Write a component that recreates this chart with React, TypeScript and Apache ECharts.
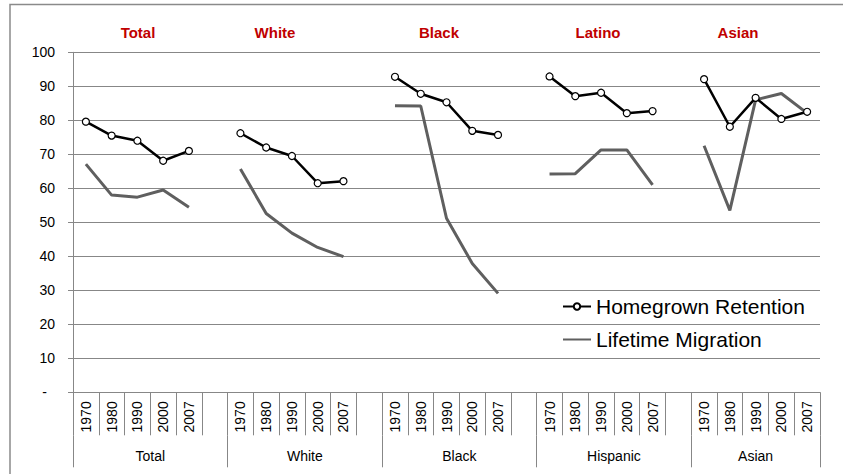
import React, { useEffect, useRef } from "react";
import * as echarts from "echarts";

const years = ["1970", "1980", "1990", "2000", "2007"];
const groups = ["Total", "White", "Black", "Hispanic", "Asian"];
const panelTitles = ["Total", "White", "Black", "Latino", "Asian"];
const yTicks = [0, 10, 20, 30, 40, 50, 60, 70, 80, 90, 100];

const retentionTotal = [79.6, 75.5, 74.0, 68.1, 71.0];
const retentionWhite = [76.2, 72.0, 69.5, 61.5, 62.1];
const retentionBlack = [92.8, 87.8, 85.3, 76.9, 75.7];
const retentionLatino = [92.9, 87.1, 88.1, 82.1, 82.7];
const retentionAsian = [92.1, 78.1, 86.6, 80.4, 82.5];

const migrationTotal = [67.1, 58.0, 57.4, 59.5, 54.4];
const migrationWhite = [65.7, 52.6, 46.8, 42.6, 39.9];
const migrationBlack = [84.3, 84.2, 51.2, 37.9, 29.1];
const migrationLatino = [64.2, 64.3, 71.3, 71.3, 61.0];
const migrationAsian = [72.5, 53.5, 86.0, 87.9, 82.1];

const retentionByGroup = [retentionTotal, retentionWhite, retentionBlack, retentionLatino, retentionAsian];
const migrationByGroup = [migrationTotal, migrationWhite, migrationBlack, migrationLatino, migrationAsian];

// Build 29 slots: 5 years per group plus a gap slot between groups
const categories: string[] = [];
groups.forEach((g, gi) => {
  years.forEach((y) => categories.push(g + "|" + y));
  if (gi < groups.length - 1) categories.push(g + "|");
});

function buildSeries(byGroup: number[][]) {
  const out: (number | null)[] = [];
  byGroup.forEach((vals, gi) => {
    vals.forEach((v) => out.push(v));
    if (gi < byGroup.length - 1) out.push(null);
  });
  return out;
}

const slotsPerGroup = years.length + 1;
const groupCenters = groups.map((_, gi) =>
  gi < groups.length - 1 ? gi * slotsPerGroup + slotsPerGroup / 2 : gi * slotsPerGroup + years.length / 2
);

const titleX = [138, 275, 439, 598, 738];

const FONT = "'Liberation Sans', Arial, sans-serif";
const GRID_COLOR = "#878787";

export default function App() {
  const ref = useRef<HTMLDivElement>(null);
  useEffect(() => {
    if (!ref.current) return;
    const chart = echarts.init(ref.current, null, { renderer: "svg" });
    const option: any = {
      animation: false,
      backgroundColor: "#fff",
      grid: { left: 73, right: 23, top: 52.3, bottom: 81.7, outerBoundsMode: "none", containLabel: false },
      legend: {
        orient: "vertical",
        left: 562,
        top: 296,
        padding: 0,
        itemWidth: 28,
        itemHeight: 8,
        itemGap: 12,
        textStyle: { fontSize: 21, color: "#000", fontFamily: FONT },
        data: [
          { name: "Homegrown Retention" },
          {
            name: "Lifetime Migration",
            itemStyle: { color: "rgba(0,0,0,0)", borderColor: "rgba(0,0,0,0)", borderWidth: 0 },
          },
        ],
      },
      xAxis: [
        {
          type: "category",
          data: categories,
          position: "bottom",
          boundaryGap: true,
          axisLine: { show: true, lineStyle: { color: GRID_COLOR, width: 1 } },
          axisTick: { show: true, interval: 0, length: 43, lineStyle: { color: GRID_COLOR } },
          axisLabel: {
            interval: 0,
            rotate: 90,
            margin: 9,
            fontSize: 14,
            color: "#000",
            fontFamily: FONT,
            formatter: (v: string) => v.split("|")[1] || "",
          },
          splitLine: { show: false },
        },
        {
          type: "category",
          data: categories,
          position: "bottom",
          offset: 43,
          boundaryGap: true,
          axisLine: { show: false },
          axisTick: {
            show: true,
            length: 32,
            interval: (idx: number) => idx % slotsPerGroup === 0,
            lineStyle: { color: GRID_COLOR },
          },
          axisLabel: { show: false },
          splitLine: { show: false },
        },
        {
          type: "value",
          position: "bottom",
          offset: 43,
          min: 0,
          max: categories.length,
          interval: 0.5,
          axisLine: { show: false },
          axisTick: { show: false },
          splitLine: { show: false },
          axisLabel: {
            margin: 14,
            fontSize: 14,
            color: "#000",
            fontFamily: FONT,
            showMinLabel: true,
            showMaxLabel: true,
            formatter: (v: number) => {
              const i = groupCenters.findIndex((c) => Math.abs(c - v) < 0.01);
              return i >= 0 ? groups[i] : "";
            },
          },
        },
      ],
      yAxis: {
        type: "value",
        min: 0,
        max: 100,
        interval: 10,
        axisLine: { show: true, lineStyle: { color: GRID_COLOR, width: 1 } },
        axisTick: { show: true, length: 5, lineStyle: { color: GRID_COLOR } },
        splitLine: { show: true, lineStyle: { color: GRID_COLOR, width: 1 } },
        axisLabel: {
          margin: 18,
          fontSize: 14,
          color: "#000",
          fontFamily: FONT,
          formatter: (v: number) => (v === yTicks[0] ? "{d|-}" : String(v)),
          rich: { d: { fontSize: 14, color: "#000", fontFamily: FONT, padding: [0, 8, 0, 0] } },
        },
      },
      series: [
        {
          name: "Homegrown Retention",
          type: "line",
          data: buildSeries(retentionByGroup),
          xAxisIndex: 0,
          yAxisIndex: 0,
          color: "#000",
          lineStyle: { color: "#000", width: 2.5 },
          symbol: "circle",
          symbolSize: 7,
          showSymbol: true,
          itemStyle: { color: "#fff", borderColor: "#000", borderWidth: 1.2 },
          z: 3,
        },
        {
          name: "Lifetime Migration",
          type: "line",
          data: buildSeries(migrationByGroup),
          xAxisIndex: 0,
          yAxisIndex: 0,
          color: "#5f5f5f",
          lineStyle: { color: "#5f5f5f", width: 3 },
          symbol: "none",
          showSymbol: false,
          itemStyle: { color: "#5f5f5f" },
          z: 2,
        },
      ],
      graphic: [
        {
          type: "rect",
          shape: { x: 10, y: 4.5, width: 860, height: 500 },
          style: { fill: "none", stroke: "#8a8a8a", lineWidth: 1.5 },
          silent: true,
        },
        ...panelTitles.map((t, i) => ({
          type: "text",
          x: titleX[i],
          y: 32,
          style: {
            text: t,
            align: "center",
            verticalAlign: "middle",
            fill: "#C00000",
            font: "bold 15px " + FONT,
          },
        })),
      ],
    };
    chart.setOption(option);
    return () => chart.dispose();
  }, []);
  return (
    <div
      ref={ref}
      style={{ position: "absolute", left: 0, top: 0, width: 843, height: 474, background: "#fff" }}
    />
  );
}
